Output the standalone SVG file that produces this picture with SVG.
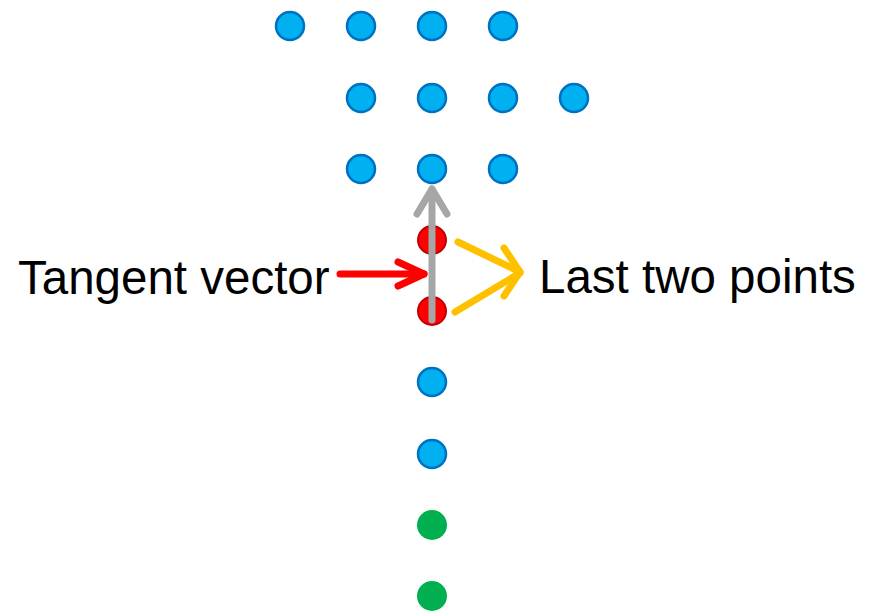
<svg xmlns="http://www.w3.org/2000/svg" width="870" height="611" viewBox="0 0 870 611">
<style>
.blue{fill:#00B0F0;stroke:#0070C0;stroke-width:2.5}
.red{fill:#FF0000;stroke:#C00000;stroke-width:2}
.green{fill:#00B050}
.lbl{font-family:"Liberation Sans",Arial,sans-serif;font-size:47.5px;fill:#000}
.arr{fill:none;stroke-width:7;stroke-linecap:round;stroke-linejoin:round}
</style>
<rect width="870" height="611" fill="#fff"/>
<g id="points">
<g id="p-r1"><circle class="blue" cx="290" cy="26" r="14"/><circle class="blue" cx="361" cy="26" r="14"/><circle class="blue" cx="432" cy="26" r="14"/><circle class="blue" cx="503" cy="26" r="14"/></g>
<g id="p-r2"><circle class="blue" cx="361" cy="98" r="14"/><circle class="blue" cx="432" cy="98" r="14"/><circle class="blue" cx="503" cy="98" r="14"/><circle class="blue" cx="574" cy="98" r="14"/></g>
<g id="p-r3"><circle class="blue" cx="361" cy="169" r="14"/><circle class="blue" cx="432" cy="169" r="14"/><circle class="blue" cx="503" cy="169" r="14"/></g>
<g id="last-two"><circle class="red" cx="432" cy="240" r="14"/><circle class="red" cx="432" cy="311" r="14"/></g>
<g id="p-low"><circle class="blue" cx="432" cy="382" r="14"/><circle class="blue" cx="432" cy="454" r="14"/><circle class="green" cx="432" cy="525" r="15"/><circle class="green" cx="432" cy="596" r="15"/></g>
</g>
<g id="connectors">
<g id="tangent-arrow" stroke="#A6A6A6"><line class="arr" stroke="#A6A6A6" x1="432" y1="320" x2="432" y2="189"/><polyline class="arr" stroke="#A6A6A6" points="417,214 432,189 447,214"/></g>
<g id="red-arrow"><line class="arr" stroke="#FF0000" stroke-linecap="butt" x1="340" y1="274" x2="424" y2="274"/><polyline class="arr" stroke="#FF0000" points="398,262 424,274 398,286"/></g>
<g id="yellow-arrows"><line class="arr" stroke="#FFC000" stroke-linecap="butt" x1="458" y1="242" x2="520" y2="272"/><line class="arr" stroke="#FFC000" stroke-linecap="butt" x1="455" y1="312" x2="520" y2="273"/><polyline class="arr" stroke="#FFC000" points="504,248 520,272 504,296"/></g>
</g>
<g id="labels">
<text class="lbl" x="18" y="294">Tangent vector</text>
<text class="lbl" x="539" y="293">Last two points</text>
</g>
</svg>
